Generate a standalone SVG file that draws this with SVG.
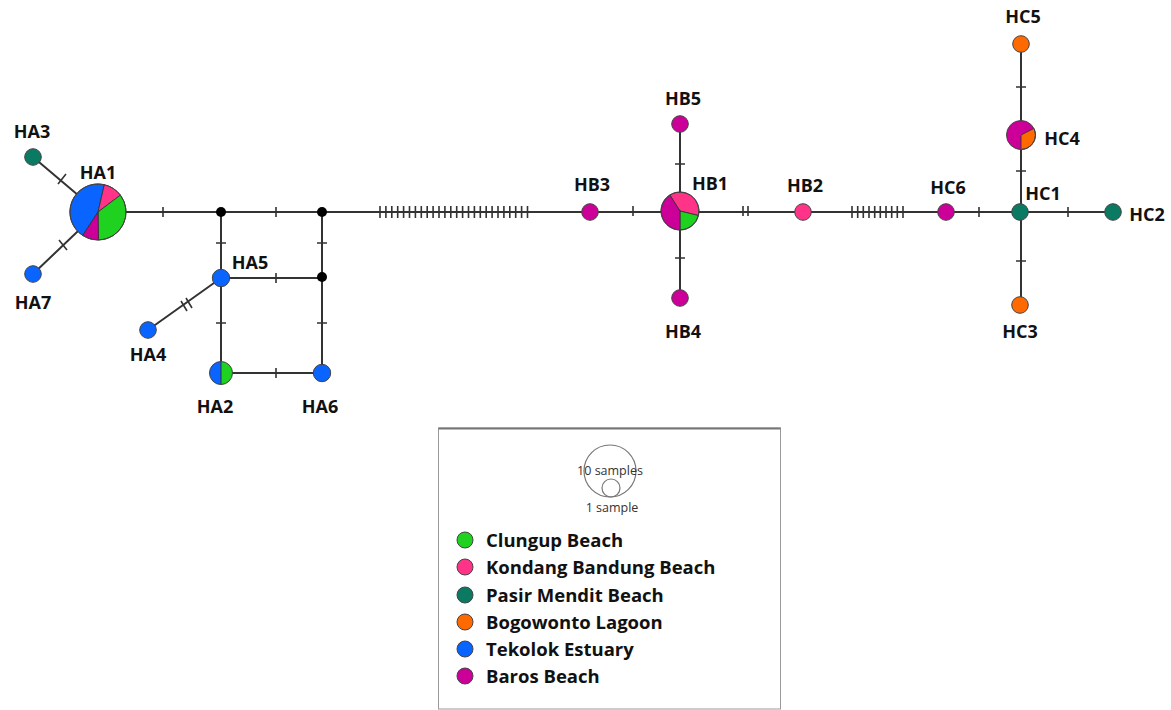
<svg xmlns="http://www.w3.org/2000/svg" width="1171" height="710" viewBox="0 0 1171 710">
<style>
.e{stroke:#333;stroke-width:2;fill:none}
.t{stroke:#333;stroke-width:1.6;fill:none}
.n{stroke:#444;stroke-width:1}
.s{stroke:#333;stroke-width:0.9}
.j{fill:#000}
.lb{font-family:"Open Sans","Liberation Sans",sans-serif;font-weight:bold;font-size:18px;fill:#111;text-anchor:middle}
.lg{font-family:"Open Sans","Liberation Sans",sans-serif;font-weight:bold;font-size:18.5px;fill:#111}
.sm{font-family:"Open Sans","Liberation Sans",sans-serif;font-size:12.5px;fill:#333;text-anchor:middle}
.cg{fill:#1fd21f}.ck{fill:#ff3388}.ct{fill:#0b7a62}.co{fill:#ff6a00}.cb{fill:#0a64ff}.cm{fill:#cc0099}
</style>
<rect width="1171" height="710" fill="#fff"/>
<g id="connectors">
<path class="e" d="M33,157 L98,212 M33,274 L98,212 M98,212 H1113 M221,212 V373 H322 V212 M221,278 H322 M221,278 L148,330"/>
<path class="e" d="M680,124 V298 M1021,44 V305"/>
<path class="t" d="M58,184 l8,-10 M59,240 l8,10 M163,207 v10 M276,207 v10 M216,243 h10 M317,243 h10 M276,273 v10 M216,323 h10 M317,323 h10 M276,368 v10 M181,301 l6,10 M186,298 l6,10 M633,206 v10 M675,164 h10 M675,258 h10 M743,206 v10 M748,206 v10 M979,207 v10 M1068,207 v10 M1016,171 h10 M1016,87 h10 M1016,261 h10"/>
<path class="t" d="M380,206v12M385.9,206v12M391.8,206v12M397.7,206v12M403.6,206v12M409.5,206v12M415.4,206v12M421.3,206v12M427.2,206v12M433.1,206v12M439,206v12M444.9,206v12M450.8,206v12M456.7,206v12M462.6,206v12M468.5,206v12M474.4,206v12M480.3,206v12M486.2,206v12M492.1,206v12M498,206v12M503.9,206v12M509.8,206v12M515.7,206v12M521.6,206v12M527.5,206v12"/>
<path class="t" d="M852,206v12M857.7,206v12M863.3,206v12M869,206v12M874.7,206v12M880.3,206v12M886,206v12M891.7,206v12M897.3,206v12M903,206v12"/>
</g>
<g id="J1"><circle class="j" cx="221" cy="212" r="5"/></g>
<g id="J2"><circle class="j" cx="322" cy="212" r="5"/></g>
<g id="J3"><circle class="j" cx="322" cy="277" r="5"/></g>
<g id="HA1">
<path class="cb s" d="M98,212 L82.7,235.5 A28,28 0 0 1 104.3,184.7 Z"/>
<path class="ck s" d="M98,212 L104.3,184.7 A28,28 0 0 1 120.4,195.1 Z"/>
<path class="cg s" d="M98,212 L120.4,195.1 A28,28 0 0 1 98.5,240 Z"/>
<path class="cm s" d="M98,212 L98.5,240 A28,28 0 0 1 82.7,235.5 Z"/>
<circle cx="98" cy="212" r="28" fill="none" stroke="#444" stroke-width="1"/>
<text class="lb" x="98" y="179">HA1</text>
</g>
<g id="HA3"><circle class="ct n" cx="33" cy="157" r="8.3"/><text class="lb" x="32" y="138">HA3</text></g>
<g id="HA7"><circle class="cb n" cx="33" cy="274" r="8.3"/><text class="lb" x="33" y="309">HA7</text></g>
<g id="HA5"><circle class="cb n" cx="221" cy="278" r="8.7"/><text class="lb" x="250" y="269">HA5</text></g>
<g id="HA4"><circle class="cb n" cx="148" cy="330" r="8.3"/><text class="lb" x="148" y="361">HA4</text></g>
<g id="HA2">
<path class="cb" d="M221,361.5 A11.5,11.5 0 0 0 221,384.5 Z"/>
<path class="cg" d="M221,361.5 A11.5,11.5 0 0 1 221,384.5 Z"/>
<path d="M221,361.5 V384.5" stroke="#333" stroke-width="1"/>
<circle cx="221" cy="373" r="11.5" fill="none" stroke="#444" stroke-width="1"/>
<text class="lb" x="215" y="413">HA2</text>
</g>
<g id="HA6"><circle class="cb n" cx="322" cy="373" r="8.7"/><text class="lb" x="320" y="413">HA6</text></g>
<g id="HB3"><circle class="cm n" cx="590" cy="212" r="8.3"/><text class="lb" x="592" y="191">HB3</text></g>
<g id="HB1">
<path class="ck s" d="M680,211 L669.8,195 A19,19 0 0 1 698.4,215.5 Z"/>
<path class="cg s" d="M680,211 L698.4,215.5 A19,19 0 0 1 680,230 Z"/>
<path class="cm s" d="M680,211 L680,230 A19,19 0 0 1 669.8,195 Z"/>
<circle cx="680" cy="211" r="19" fill="none" stroke="#444" stroke-width="1"/>
<text class="lb" x="710" y="190">HB1</text>
</g>
<g id="HB5"><circle class="cm n" cx="680" cy="124" r="8.3"/><text class="lb" x="683" y="105">HB5</text></g>
<g id="HB4"><circle class="cm n" cx="680" cy="298" r="8.3"/><text class="lb" x="683" y="338">HB4</text></g>
<g id="HB2"><circle class="ck n" cx="803" cy="212" r="8.3"/><text class="lb" x="805" y="192">HB2</text></g>
<g id="HC6"><circle class="cm n" cx="946" cy="212" r="8.3"/><text class="lb" x="948" y="194">HC6</text></g>
<g id="HC1"><circle class="ct n" cx="1020" cy="212" r="8.3"/><text class="lb" x="1043" y="200">HC1</text></g>
<g id="HC2"><circle class="ct n" cx="1113" cy="212" r="8.3"/><text class="lb" x="1147" y="221">HC2</text></g>
<g id="HC3"><circle class="co n" cx="1020" cy="305" r="8.3"/><text class="lb" x="1020" y="338">HC3</text></g>
<g id="HC4">
<circle class="cm" cx="1021" cy="135" r="14.5"/>
<path class="co s" d="M1021,135 L1033.9,128.4 A14.5,14.5 0 0 1 1021,149.5 Z"/>
<circle cx="1021" cy="135" r="14.5" fill="none" stroke="#444" stroke-width="1"/>
<text class="lb" x="1062" y="145">HC4</text>
</g>
<g id="HC5"><circle class="co n" cx="1021" cy="44" r="8.3"/><text class="lb" x="1023" y="23">HC5</text></g>
<g id="legend">
<rect x="438.5" y="428" width="342" height="281" fill="#fff" stroke="#999" stroke-width="1"/>
<path d="M438.5,428.5 H780.5" stroke="#777" stroke-width="2"/>
<circle cx="610" cy="471" r="26" fill="none" stroke="#777" stroke-width="1.2"/>
<circle cx="611" cy="488" r="9" fill="none" stroke="#777" stroke-width="1.2"/>
<text class="sm" x="610" y="475">10 samples</text>
<text class="sm" x="612" y="512">1 sample</text>
<circle class="cg n" cx="465" cy="540" r="8"/><text class="lg" x="486" y="547">Clungup Beach</text>
<circle class="ck n" cx="465" cy="567" r="8"/><text class="lg" x="486" y="574">Kondang Bandung Beach</text>
<circle class="ct n" cx="465" cy="595" r="8"/><text class="lg" x="486" y="602">Pasir Mendit Beach</text>
<circle class="co n" cx="465" cy="622" r="8"/><text class="lg" x="486" y="629">Bogowonto Lagoon</text>
<circle class="cb n" cx="465" cy="649" r="8"/><text class="lg" x="486" y="656">Tekolok Estuary</text>
<circle class="cm n" cx="465" cy="676" r="8"/><text class="lg" x="486" y="683">Baros Beach</text>
</g>
</svg>
